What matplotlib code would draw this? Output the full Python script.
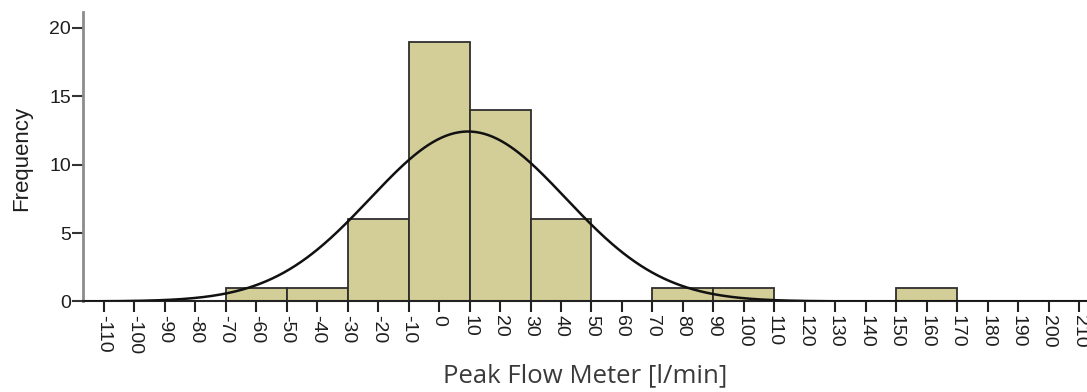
import numpy as np
import matplotlib
matplotlib.use("Agg")
import matplotlib.pyplot as plt

# Histogram bins (l/min) and their counts
bin_edges = [-70, -50, -30, -10, 10, 30, 50, 70, 90, 110, 130, 150, 170]
counts = [1, 1, 6, 19, 14, 6, 0, 1, 1, 0, 0, 1]

# Fitted normal curve parameters
n_total = 50
fit_mean = 9.5
fit_sd = 32.1

tick_values = list(range(-110, 211, 10))
ytick_values = [0, 5, 10, 15, 20]

tick_font = ['Liberation Sans', 'DejaVu Sans']
title_font = ['Open Sans', 'DejaVu Sans']

fig = plt.figure(figsize=(10.87, 3.92), dpi=100)
ax = fig.add_axes([0.0768, 0.2311, 0.9232, 0.7383])

edges = np.array(bin_edges, dtype=float)
widths = np.diff(edges)
ax.bar(edges[:-1], counts, width=widths, align='edge',
       color='#d3ce97', edgecolor='#2e2e2e', linewidth=1.3, zorder=2)

xs = np.linspace(-116, 213, 700)
bw = widths[0]
ys = n_total * bw / (fit_sd * np.sqrt(2 * np.pi)) * np.exp(-0.5 * ((xs - fit_mean) / fit_sd) ** 2)
ax.plot(xs, ys, color='#111111', linewidth=1.8, zorder=3)

ax.set_xlim(-116.7, 212.6)
ax.set_ylim(0, 21.17)

ax.set_xticks(tick_values)
ax.set_xticklabels([str(v) for v in tick_values], rotation=270,
                   fontsize=14, color='#1e1e1e', family=tick_font)
ax.set_yticks(ytick_values)
ax.set_yticklabels([str(v) for v in ytick_values],
                   fontsize=14, color='#1e1e1e', family=tick_font)

ax.tick_params(axis='x', direction='out', length=8, width=1.5, color='#222222', pad=2)
ax.tick_params(axis='y', direction='out', length=8, width=1.5, color='#333333', pad=1)

for side in ('top', 'right'):
    ax.spines[side].set_visible(False)
ax.spines['left'].set_color('#8c8c8c')
ax.spines['left'].set_linewidth(2.0)
ax.spines['bottom'].set_color('#222222')
ax.spines['bottom'].set_linewidth(1.5)

fig.text(0.5385, 0.0255, 'Peak Flow Meter [l/min]', fontsize=18.5, color='#3a3a3a',
         family=title_font, ha='center', va='baseline')
fig.text(22 / 1087, 0.597, 'Frequency', fontsize=16, color='#1e1e1e',
         family=tick_font, rotation=90, ha='center', va='center')

fig.savefig('out.png', dpi=100)
